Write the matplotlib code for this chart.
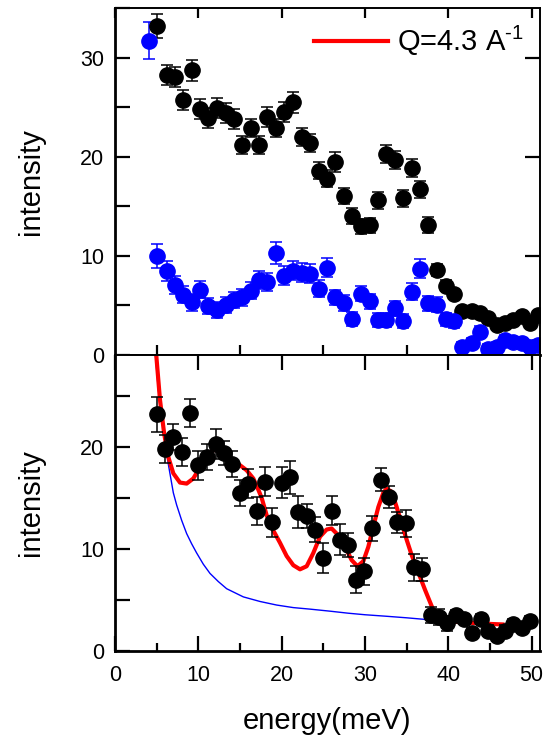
import matplotlib
matplotlib.use("Agg")
import matplotlib.pyplot as plt
from matplotlib.lines import Line2D
from matplotlib.ticker import MultipleLocator

plt.rcParams['font.family'] = ['Liberation Sans', 'DejaVu Sans']
plt.rcParams['mathtext.default'] = 'regular'

### Top panel data
top_black_e = [5.1, 6.2, 7.2, 8.2, 9.2, 10.2, 11.2, 12.3, 13.3, 14.3, 15.3, 16.3, 17.3, 18.3,
               19.3, 20.3, 21.4, 22.4, 23.4, 24.5, 25.5, 26.4, 27.5, 28.5, 29.5, 30.6, 31.6,
               32.5, 33.6, 34.6, 35.6, 36.6, 37.6, 38.6, 39.7, 40.7, 41.6, 42.8, 43.8, 44.8,
               45.8, 46.8, 47.8, 48.8, 49.8, 50.8]
top_black_i = [33.2, 28.2, 28.0, 25.7, 28.7, 24.8, 23.9, 24.9, 24.4, 23.8, 21.2, 22.9, 21.2, 24.0,
               22.9, 24.5, 25.5, 22.0, 21.4, 18.6, 17.8, 19.5, 16.0, 14.0, 13.0, 13.1, 15.6,
               20.3, 19.7, 15.8, 18.9, 16.7, 13.1, 8.6, 7.0, 6.2, 4.4, 4.4, 4.2, 3.7,
               3.0, 3.2, 3.5, 3.9, 3.2, 4.0]
top_black_err = [1.2, 1.0, 1.0, 1.0, 1.05, 1.0, 1.0, 1.0, 1.0, 1.0, 0.9, 0.95, 0.9, 1.0,
                 0.95, 1.0, 1.05, 0.9, 0.9, 0.85, 0.85, 1.0, 0.8, 0.8, 0.75, 0.75, 0.85,
                 0.9, 0.9, 0.85, 0.9, 0.85, 0.8, 0.6, 0.55, 0.5, 0.45, 0.45, 0.45, 0.4,
                 0.4, 0.4, 0.4, 0.4, 0.4, 0.4]

top_blue_e = [4.1] + top_black_e
top_blue_i = [31.7, 10.0, 8.5, 7.1, 6.1, 5.3, 6.6, 4.9, 4.5, 5.05, 5.55, 5.8, 6.5, 7.6, 7.4,
              10.3, 8.0, 8.5, 8.3, 8.2, 6.7, 8.8, 5.8, 5.2, 3.6, 6.2, 5.4, 3.5, 3.5, 4.7,
              3.4, 6.4, 8.7, 5.2, 5.05, 3.6, 3.4, 0.85, 1.2, 2.35, 0.6, 0.85, 1.5, 1.35,
              1.2, 0.85, 1.0]
top_blue_err = [1.85, 1.2, 1.0, 0.9, 0.9, 0.85, 0.9, 0.8, 0.8, 0.8, 0.8, 0.85, 0.85, 0.9, 0.9,
                1.1, 0.95, 0.95, 0.95, 0.95, 0.9, 0.95, 0.8, 0.8, 0.7, 0.8, 0.8, 0.7, 0.7, 0.75,
                0.7, 0.85, 0.95, 0.75, 0.75, 0.65, 0.65, 0.5, 0.5, 0.55, 0.5, 0.5, 0.5, 0.5,
                0.5, 0.5, 0.5]

### Bottom panel data
bot_e = [5.0, 6.0, 7.0, 8.0, 9.0, 10.0, 11.0, 12.1, 13.1, 14.0, 15.0, 16.0, 17.0, 18.0, 18.9,
         20.0, 21.0, 22.0, 23.0, 24.0, 25.0, 26.0, 27.0, 28.0, 28.9, 29.9, 30.9, 31.9, 32.9,
         33.9, 34.9, 35.9, 36.9, 37.9, 38.9, 39.9, 40.9, 41.9, 42.9, 43.9, 44.8, 45.8, 46.8,
         47.8, 48.8, 49.8]
bot_i = [23.2, 19.8, 20.95, 19.5, 23.3, 18.2, 19.0, 20.3, 19.4, 18.3, 15.5, 16.4, 13.7, 16.6, 12.6,
         16.5, 17.0, 13.6, 13.2, 11.9, 9.1, 13.75, 10.9, 10.4, 7.0, 7.8, 12.0, 16.8, 15.1,
         12.6, 12.5, 8.2, 8.0, 3.5, 3.3, 2.7, 3.5, 3.1, 1.8, 3.1, 2.0, 1.5, 2.0,
         2.65, 2.3, 2.9]
bot_err = [1.7, 1.4, 1.3, 1.4, 1.35, 1.4, 1.3, 1.45, 1.2, 1.3, 1.3, 1.4, 1.4, 1.4, 1.4,
           1.5, 1.6, 1.6, 1.2, 1.2, 1.5, 1.4, 1.5, 1.2, 1.3, 1.3, 1.2, 1.1, 1.1,
           1.0, 1.3, 1.35, 1.15, 0.8, 0.8, 0.7, 0.5, 0.5, 0.5, 0.5, 0.5, 0.5, 0.5,
           0.5, 0.5, 0.5]

# fit curve
fit_e = [4.95, 5.4, 5.9, 6.4, 7.0, 7.8, 8.6, 9.4, 10.2, 11.0, 11.6, 12.4, 13.0, 13.8, 15.0,
         15.8, 16.6, 17.2, 17.6, 18.2, 19.0, 19.8, 20.6, 21.4, 22.2, 23.0, 23.8, 24.6, 25.4,
         26.0, 26.6, 27.2, 27.8, 28.4, 29.1, 29.8, 30.4, 31.0, 31.6, 32.2, 32.6, 33.2, 33.8,
         34.4, 35.0, 35.6, 36.4, 37.2, 38.0, 38.6, 39.5, 41.0, 43.0, 45.0, 46.5]
fit_i = [29.0, 24.6, 21.3, 19.0, 17.4, 16.5, 16.4, 16.9, 18.0, 19.0, 19.6, 19.8, 19.5, 18.8, 18.2,
         17.7, 16.9, 15.8, 15.0, 13.3, 11.8, 10.6, 9.3, 8.4, 8.0, 8.3, 9.6, 11.2, 11.9,
         12.0, 11.5, 10.8, 9.9, 8.9, 8.3, 8.8, 10.2, 12.2, 14.1, 15.5, 15.9, 15.6, 14.1,
         12.5, 10.9, 9.4, 7.7, 6.0, 4.4, 3.3, 2.95, 2.85, 2.75, 2.65, 2.6]

# background curve
bg_e = [4.85, 5.2, 5.6, 6.0, 6.4, 7.0, 7.4, 8.0, 8.6, 9.2, 9.8, 10.6, 11.4, 12.4, 13.4, 15.4,
        17.4, 19.4, 21.4, 23.4, 25.8, 28.0, 30.0, 32.6, 35.0, 37.8, 40.0, 43.0, 46.5]
bg_i = [29.0, 25.6, 23.0, 20.4, 18.3, 15.5, 14.3, 12.8, 11.5, 10.5, 9.6, 8.5, 7.6, 6.8, 6.1, 5.3,
        4.85, 4.5, 4.25, 4.1, 3.9, 3.7, 3.55, 3.4, 3.25, 3.05, 2.95, 2.8, 2.6]

BLUE = '#0000ff'
RED = '#ff0000'
ms = 11
tick_fs = 15.5
label_fs = 21

fig = plt.figure(figsize=(5.46, 7.4), dpi=100)
ax1 = fig.add_axes([0.2106, 0.5203, 0.7784, 0.4689])
ax2 = fig.add_axes([0.2106, 0.1203, 0.7784, 0.4000])

ax1.errorbar(top_black_e, top_black_i, yerr=top_black_err, fmt='o', color='k', ms=ms,
             ecolor='k', elinewidth=1.1, capsize=4.5, capthick=1.1)
ax1.errorbar(top_blue_e, top_blue_i, yerr=top_blue_err, fmt='o', color=BLUE, ms=ms,
             ecolor=BLUE, elinewidth=1.1, capsize=4.5, capthick=1.1)

ax2.plot(bg_e, bg_i, color=BLUE, lw=1.0, zorder=2)
ax2.plot(fit_e, fit_i, color=RED, lw=3.0, zorder=2.5)
ax2.errorbar(bot_e, bot_i, yerr=bot_err, fmt='o', color='k', ms=ms,
             ecolor='k', elinewidth=1.1, capsize=4.5, capthick=1.1, zorder=3)

for ax in (ax1, ax2):
    ax.set_xlim(0, 51)
    ax.xaxis.set_major_locator(MultipleLocator(10))
    ax.xaxis.set_minor_locator(MultipleLocator(5))
    ax.yaxis.set_major_locator(MultipleLocator(10))
    ax.yaxis.set_minor_locator(MultipleLocator(5))
    ax.tick_params(which='both', direction='in', labelsize=tick_fs, width=1.6)
    ax.tick_params(which='major', length=11)
    ax.tick_params(which='minor', length=6)
    ax.tick_params(axis='y', which='minor', length=11)
    for s in ('left', 'bottom'):
        ax.spines[s].set_linewidth(2.0)
    for s in ('top', 'right'):
        ax.spines[s].set_linewidth(1.4)
    ax.set_ylabel('intensity', fontsize=label_fs)
    ax.yaxis.set_label_coords(-0.165, 0.5)

ax1.set_ylim(0, 35)
ax1.tick_params(axis='x', bottom=False, labelbottom=False, top=True)
ax1.tick_params(axis='y', right=True, pad=8)
ax1.tick_params(axis='x', which='both', length=7)

ax2.set_ylim(0, 29)
ax2.tick_params(axis='x', top=True, pad=10)
ax2.tick_params(axis='y', right=False, pad=8)
ax2.set_xlabel('energy(meV)', fontsize=label_fs, labelpad=15)

handle = Line2D([], [], color=RED, lw=3.0)
ax1.legend([handle], ['Q=4.3 A$^{\u2010 1}$'], loc='upper right', frameon=False, fontsize=21,
           handlelength=2.55, handletextpad=0.3, borderaxespad=0.15,
           bbox_to_anchor=(1.0, 1.0))

fig.savefig('out.png', dpi=100)
